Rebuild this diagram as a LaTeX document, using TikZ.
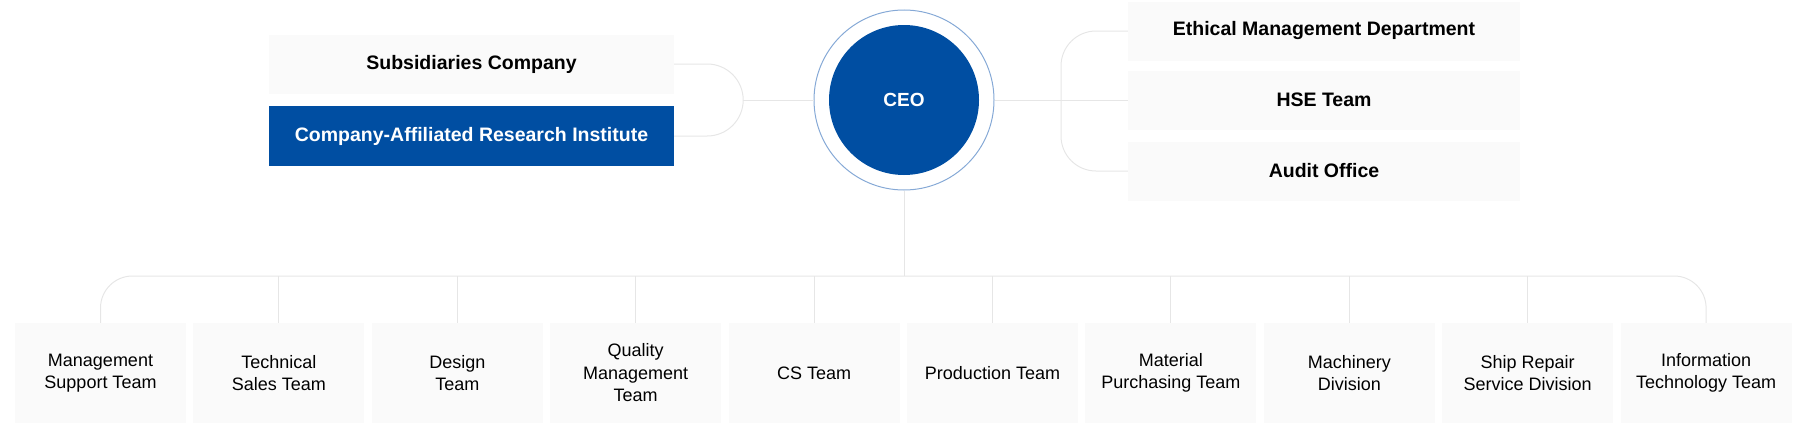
\documentclass[tikz,border=0pt]{standalone}
\usepackage{fontspec}
\setmainfont{Liberation Sans}
\usetikzlibrary{positioning}
\definecolor{ceoblue}{HTML}{004EA2}
\definecolor{boxgray}{HTML}{FAFAFA}
\definecolor{linegray}{HTML}{E6E6E6}
\definecolor{ringblue}{HTML}{86A9D6}
\begin{document}
\begin{tikzpicture}[x=1pt, y=-1pt,
	unit/.style={fill=boxgray, minimum width=392pt, minimum height=59pt, inner sep=0pt, font=\fontsize{19.5}{23}\selectfont\bfseries},
	team/.style={fill=boxgray, minimum width=171pt, minimum height=100pt, inner sep=0pt, align=center, font=\fontsize{18}{22.5}\selectfont},
	link/.style={draw=linegray, line width=1pt}]
	\useasboundingbox (0,0) rectangle (1807,423);
	% top row
	\node[unit, minimum width=405pt] (sub) at (471.5,64) {Subsidiaries Company};
	\node[unit, minimum width=405pt, minimum height=60pt, fill=ceoblue, text=white] (lab) at (471.5,136) {Company-Affiliated Research Institute};
	\node[circle, draw=ringblue, line width=1pt, minimum size=180pt] (ring) at (904,100) {};
	\node[circle, fill=ceoblue, text=white, minimum size=150pt, font=\fontsize{19}{23}\selectfont\bfseries] (ceo) at (ring.center) {CEO};
	\node[unit] (eth) at (1324,31) {Ethical Management Department};
	\node[unit] (hse) at (1324,100) {HSE Team};
	\node[unit] (aud) at (1324,171) {Audit Office};
	% teams
	\foreach \i/\txt in {1/Management\\Support Team, 2/Technical\\Sales Team, 3/Design\\Team,
		4/Quality\\Management\\Team, 5/CS Team, 6/Production Team, 7/Material\\Purchasing Team,
		8/Machinery\\Division, 9/Ship Repair\\Service Division, 10/Information\\Technology Team}
		\node[team] (t\i) at ({100.5+(\i-1)*178.4},373) {\txt};
	% connectors
	\coordinate (ljoin) at (743,100);
	\coordinate (rjoin) at (1061,100);
	\coordinate (bus) at (904,276);
	\draw[link] (sub.east) -- ++(33,0) arc[start angle=-90, end angle=90, radius=36] -- (lab.east);
	\draw[link] (ljoin) -- (ring.west);
	\draw[link] (ring.east) -- (hse.west);
	\draw[link, rounded corners=35pt] (eth.west) -| (rjoin) |- (aud.west);
	\draw[link] (ring.south) -- (bus);
	\draw[link, rounded corners=32pt] (t1.north) |- (bus) -| (t10.north);
	\foreach \i in {2,...,9}
		\draw[link] (t\i.north) -- (t\i.north |- bus);
\end{tikzpicture}
\end{document}
